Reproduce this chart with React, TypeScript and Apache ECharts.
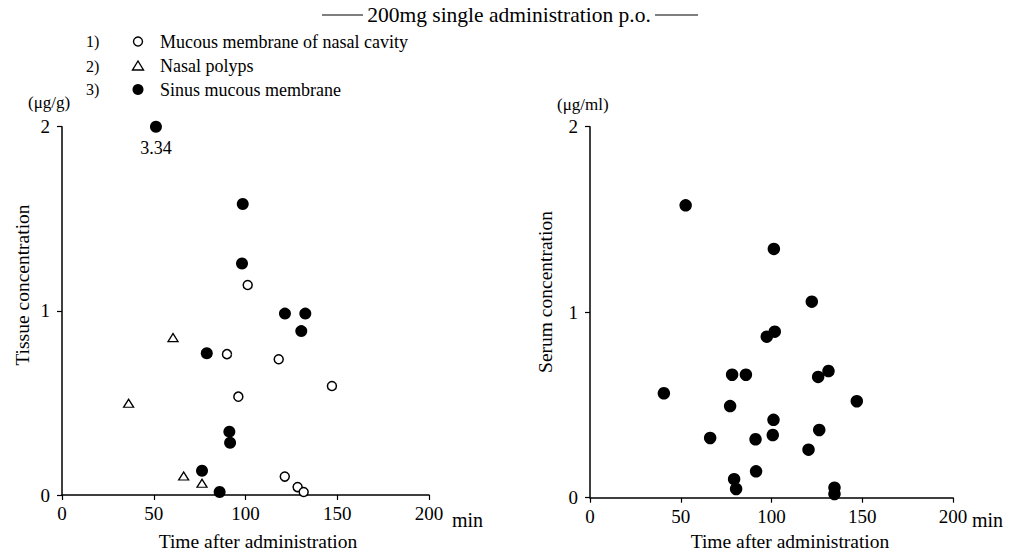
import React, { useEffect, useRef } from "react";
import * as echarts from "echarts";

// ---- Data ----
const nasalCavityX = [101.2, 89.9, 118.1, 147.1, 96.1, 121.4, 128.4, 131.7];
const nasalCavityY = [1.14, 0.765, 0.737, 0.592, 0.534, 0.1, 0.043, 0.016];

const polypsX = [60.5, 36.3, 66.3, 76.3];
const polypsY = [0.855, 0.498, 0.103, 0.064];

const sinusX = [51.2, 98.5, 98.1, 121.5, 132.6, 130.4, 78.9, 91.2, 91.6, 76.3, 85.9];
const sinusY = [3.34, 1.58, 1.257, 0.985, 0.985, 0.89, 0.77, 0.344, 0.284, 0.132, 0.016];

const serumX = [52.7, 101.3, 122.2, 101.8, 97.4, 78.3, 85.9, 131.4, 125.7, 40.7, 147.0, 77.2, 101.1, 100.7, 126.3, 66.2, 91.2, 120.4, 91.5, 79.4, 80.5, 134.7, 134.7];
const serumY = [1.576, 1.341, 1.057, 0.895, 0.868, 0.663, 0.663, 0.683, 0.651, 0.563, 0.52, 0.494, 0.42, 0.338, 0.365, 0.322, 0.315, 0.259, 0.142, 0.1, 0.047, 0.054, 0.02];

const xTicks = [0, 50, 100, 150, 200];
const xMax = 200;
const yMax = 2;

const legendLabels = [
  "Mucous membrane of nasal cavity",
  "Nasal polyps",
  "Sinus mucous membrane",
];
const titleText = "200mg single administration p.o.";

const FONT = "'Liberation Serif', 'Times New Roman', serif";

function pairs(xs: number[], ys: number[]) {
  return xs.map((x, i) => {
    const y = ys[i];
    if (y > yMax) {
      return {
        value: [x, yMax],
        label: {
          show: true,
          formatter: String(y.toFixed(2)),
          position: "bottom",
          distance: 6,
          color: "#000",
          fontFamily: FONT,
          fontSize: 18,
        },
      };
    }
    return { value: [x, y] };
  });
}

export default function App() {
  const ref = useRef<HTMLDivElement>(null);
  useEffect(() => {
    document.body.style.margin = "0";
    const chart = echarts.init(ref.current!, undefined, { renderer: "svg" });
    const axisLine = { show: true, lineStyle: { color: "#000", width: 1.5 } };
    const axisTick = { show: true, length: 5, lineStyle: { color: "#000", width: 1.2 } };
    const labelStyle = { color: "#000", fontFamily: FONT, fontSize: 19 };
    const mkX = (gi: number) => ({
      type: "value",
      gridIndex: gi,
      min: 0,
      max: xMax,
      interval: 50,
      axisLine,
      axisTick,
      splitLine: { show: false },
      axisLabel: { ...labelStyle, margin: 9, customValues: xTicks },
    });
    const mkY = (gi: number) => ({
      type: "value",
      gridIndex: gi,
      min: 0,
      max: yMax,
      interval: 1,
      axisLine,
      axisTick,
      splitLine: { show: false },
      axisLabel: { ...labelStyle, margin: 12 },
    });
    const txt = (text: string, x: number, y: number, size: number, extra: any = {}) => ({
      type: "text",
      x,
      y,
      style: {
        text,
        fill: "#000",
        fontFamily: FONT,
        fontSize: size,
        align: "left",
        verticalAlign: "middle",
        ...extra,
      },
    });
    const legendRows = [41.5, 66, 89.5];
    const graphic: any[] = [
      // title
      { type: "line", shape: { x1: 322, y1: 15, x2: 363, y2: 15 }, style: { stroke: "#000", lineWidth: 1.2 } },
      txt(titleText, 509, 15, 21.5, { align: "center" }),
      { type: "line", shape: { x1: 655, y1: 15, x2: 698, y2: 15 }, style: { stroke: "#000", lineWidth: 1.2 } },
      // legend
      txt("1)", 86, legendRows[0], 16),
      txt("2)", 86, legendRows[1], 16),
      txt("3)", 86, legendRows[2], 16),
      { type: "circle", shape: { cx: 138, cy: legendRows[0], r: 4.5 }, style: { fill: "#fff", stroke: "#000", lineWidth: 1.4 } },
      { type: "polygon", shape: { points: [[138, legendRows[1] - 5], [143.5, legendRows[1] + 4], [132.5, legendRows[1] + 4]] }, style: { fill: "#fff", stroke: "#000", lineWidth: 1.4 } },
      { type: "circle", shape: { cx: 138, cy: legendRows[2], r: 5.5 }, style: { fill: "#000" } },
      txt(legendLabels[0], 160, legendRows[0], 18),
      txt(legendLabels[1], 160, legendRows[1], 18),
      txt(legendLabels[2], 160, legendRows[2], 18),
      // units
      txt("(μg/g)", 28, 102, 17),
      txt("(μg/ml)", 557, 104, 17),
      // min
      txt("min", 452, 520, 20),
      txt("min", 972, 520, 20),
      // axis titles
      txt("Time after administration", 258, 541, 19.5, { align: "center" }),
      txt("Time after administration", 790, 541, 19.5, { align: "center" }),
      { ...txt("Tissue concentration", 0, 0, 19.5, { align: "center" }), x: 22, y: 285, rotation: Math.PI / 2 },
      { ...txt("Serum concentration", 0, 0, 19.5, { align: "center" }), x: 545, y: 292, rotation: Math.PI / 2 },
    ];
    chart.setOption({
      animation: false,
      backgroundColor: "#fff",
      grid: [
        { left: 62, top: 126.7, width: 367, height: 368.3 },
        { left: 590, top: 126.7, width: 363, height: 371 },
      ],
      xAxis: [mkX(0), mkX(1)],
      yAxis: [mkY(0), mkY(1)],
      graphic,
      series: [
        {
          name: legendLabels[0],
          type: "scatter",
          xAxisIndex: 0,
          yAxisIndex: 0,
          symbol: "circle",
          symbolSize: 9,
          itemStyle: { color: "#fff", borderColor: "#000", borderWidth: 1.5, opacity: 1 },
          data: pairs(nasalCavityX, nasalCavityY),
        },
        {
          name: legendLabels[1],
          type: "scatter",
          xAxisIndex: 0,
          yAxisIndex: 0,
          symbol: "triangle",
          symbolSize: [10, 8],
          itemStyle: { color: "#fff", borderColor: "#000", borderWidth: 1.3, opacity: 1 },
          data: pairs(polypsX, polypsY),
        },
        {
          name: legendLabels[2],
          type: "scatter",
          xAxisIndex: 0,
          yAxisIndex: 0,
          symbol: "circle",
          symbolSize: 12,
          itemStyle: { color: "#000", opacity: 1 },
          data: pairs(sinusX, sinusY),
        },
        {
          name: "Serum",
          type: "scatter",
          xAxisIndex: 1,
          yAxisIndex: 1,
          symbol: "circle",
          symbolSize: 12.5,
          itemStyle: { color: "#000", opacity: 1 },
          data: pairs(serumX, serumY),
        },
      ],
    });
    return () => chart.dispose();
  }, []);
  return <div ref={ref} style={{ width: 1017, height: 555 }} />;
}
